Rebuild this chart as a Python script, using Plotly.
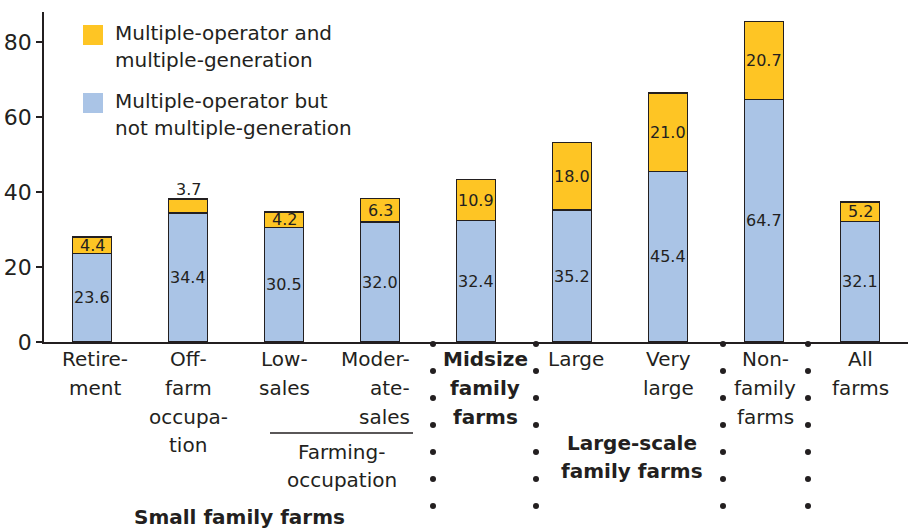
import plotly.graph_objects as go

# ---- data ----
categories = ["Retirement", "Off-farm occupation", "Low-sales", "Moderate-sales",
              "Midsize family farms", "Large", "Very large", "Nonfamily farms", "All farms"]
blue_vals = [23.6, 34.4, 30.5, 32.0, 32.4, 35.2, 45.4, 64.7, 32.1]
gold_vals = [4.4, 3.7, 4.2, 6.3, 10.9, 18.0, 21.0, 20.7, 5.2]
cat_lines = [["Retire-", "ment"], ["Off-", "farm", "occupa-", "tion"], ["Low-", "sales"],
             ["Moder-", "ate-", "sales"], ["Midsize", "family", "farms"], ["Large"],
             ["Very", "large"], ["Non-", "family", "farms"], ["All", "farms"]]
y_ticks = [0, 20, 40, 60, 80]

FONT = "DejaVu Sans"
TXT = "#231F20"
GOLD = "#FEC524"
BLUE = "#AAC4E6"

# layout geometry (pixels)
W, H = 911, 531
ML, MR, MT, MB = 44, 3, 12, 189
PH = H - MT - MB  # plot height
PW = W - ML - MR


def py(p):  # pixel y -> paper y
    return (H - MB - p) / PH


def px(p):  # pixel x -> paper x
    return (p - ML) / PW


fig = go.Figure()
x = list(range(len(categories)))
fig.add_trace(go.Bar(x=x, y=blue_vals, name="Multiple-operator but not multiple-generation",
                     marker=dict(color=BLUE, line=dict(color=TXT, width=1.3)), width=0.4,
                     showlegend=False, hoverinfo="y"))
fig.add_trace(go.Bar(x=x, y=gold_vals, name="Multiple-operator and multiple-generation",
                     marker=dict(color=GOLD, line=dict(color=TXT, width=1.3)), width=0.4,
                     showlegend=False, hoverinfo="y"))

ann = []
# value labels
for i, (b, g) in enumerate(zip(blue_vals, gold_vals)):
    ann.append(dict(x=i, y=b / 2, xref="x", yref="y", text=f"{b:.1f}", showarrow=False,
                    yanchor="middle", font=dict(family=FONT, size=16, color=TXT)))
    if g < 4.0:
        ann.append(dict(x=i, y=b + g, xref="x", yref="y", text=f"{g:.1f}", showarrow=False,
                        yanchor="bottom", yshift=-2, font=dict(family=FONT, size=16, color=TXT)))
    else:
        ann.append(dict(x=i, y=b + g / 2, xref="x", yref="y", text=f"{g:.1f}", showarrow=False,
                        yanchor="middle", font=dict(family=FONT, size=16, color=TXT)))

# category labels (one annotation per line)
line_y = [359, 388, 417, 445]
label_shift = [3, 0, 0, 0, 9, 4, 0, 1, 0]
for i, lines in enumerate(cat_lines):
    for k, t in enumerate(lines):
        bold = (i == 4)
        a = dict(x=i, y=py(line_y[k]), xref="x", yref="paper", showarrow=False,
                 text=f"<b>{t}</b>" if bold else t, yanchor="middle", xanchor="center",
                 xshift=label_shift[i], font=dict(family=FONT, size=20, color=TXT))
        if i == 3:
            a.update(xanchor="right", xshift=32)
        ann.append(a)


def label(xv, ypx, text):
    ann.append(dict(x=xv, y=py(ypx), xref="x", yref="paper", text=text, showarrow=False,
                    xanchor="center", yanchor="middle",
                    font=dict(family=FONT, size=20, color=TXT)))


# group labels
label(2.6, 452, "Farming-")
label(2.6, 480, "occupation")
label(1.54, 517, "<b>Small family farms</b>")
label(5.62, 443, "<b>Large-scale</b>")
label(5.62, 471, "<b>family farms</b>")

# custom legend
shapes = []
for color, top, lines in [(GOLD, 25, ["Multiple-operator and", "multiple-generation"]),
                          (BLUE, 93, ["Multiple-operator but", "not multiple-generation"])]:
    shapes.append(dict(type="rect", xref="paper", yref="paper", x0=px(83), x1=px(103),
                       y0=py(top + 20), y1=py(top), fillcolor=color, line=dict(width=0)))
    for k, t in enumerate(lines):
        ann.append(dict(x=px(113), y=py(top + 8 + 27 * k), xref="paper", yref="paper", text=t,
                        showarrow=False, xanchor="left", yanchor="middle",
                        font=dict(family=FONT, size=20, color=TXT)))

# line under farming-occupation labels
shapes.append(dict(type="line", xref="paper", yref="paper", x0=px(270), x1=px(413),
                   y0=py(433), y1=py(433), line=dict(color=TXT, width=1.5)))

# dotted separators (circles in paper coordinates)
sep_px = [433, 536, 723, 808]
dot_py = [344, 371, 398, 425, 452, 479, 506]
r = 3.0
for s in sep_px:
    for d in dot_py:
        shapes.append(dict(type="circle", xref="paper", yref="paper",
                           x0=px(s - r), x1=px(s + r), y0=py(d + r), y1=py(d - r),
                           fillcolor=TXT, line=dict(width=0)))

fig.update_layout(
    width=W, height=H, margin=dict(l=ML, r=MR, t=MT, b=MB, autoexpand=False),
    barmode="stack", plot_bgcolor="white", paper_bgcolor="white",
    font=dict(family=FONT, color=TXT),
    annotations=ann, shapes=shapes,
    xaxis=dict(range=[-0.5, 8.5], showticklabels=False, ticks="", showline=True,
               linecolor=TXT, linewidth=1.5, showgrid=False, zeroline=False),
    yaxis=dict(range=[0, 88], tickvals=y_ticks, ticks="outside", ticklen=6, tickwidth=1.5,
               tickcolor=TXT, showline=True, linecolor=TXT, linewidth=1.5, showgrid=False,
               zeroline=False, tickfont=dict(family=FONT, size=22, color=TXT)),
)

fig.write_html("out.html", config={"displayModeBar": False},
               post_script="document.body.style.margin='0px';document.body.style.padding='0px';")
